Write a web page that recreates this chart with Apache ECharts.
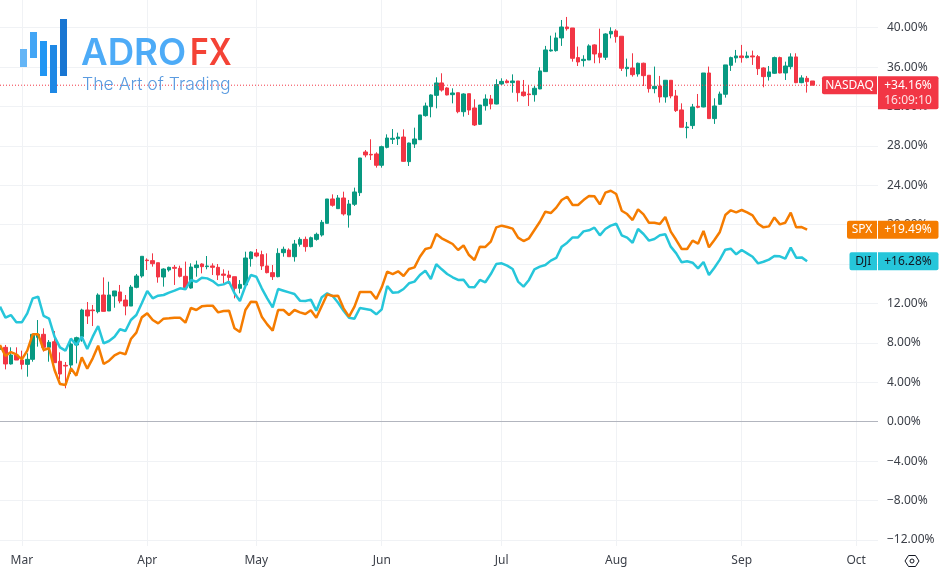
<!DOCTYPE html>
<html>
<head>
<meta charset="utf-8">
<title>NASDAQ SPX DJI</title>
<script src="https://cdn.jsdelivr.net/npm/echarts@6/dist/echarts.min.js"></script>
<style>
html, body { margin: 0; padding: 0; background: #fff; }
#main { width: 941px; height: 572px; }
</style>
</head>
<body>
<div id="main"></div>
<script>
// NASDAQ candles, % change
var nasdaqOpen = [7.35,7.55,5.86,6.77,6.26,5.82,6.33,8.56,8.87,7.55,
  8.12,6.13,5.72,5.75,7.79,8.63,11.34,11.34,11.17,12.86,
  11.24,12.76,13.17,12.35,11.74,13.64,14.79,16.41,16.35,16.14,
  14.69,15.40,15.67,15.57,14.76,13.57,15.64,16.01,15.74,15.81,
  15.67,14.99,14.89,14.72,13.54,13.88,16.55,17.13,16.96,15.81,
  15.13,14.72,17.16,17.43,16.75,18.01,18.51,17.77,18.51,18.95,
  20.14,22.61,21.63,22.71,20.98,22.07,23.25,27.38,27.14,27.18,
  26.03,27.85,28.67,28.73,28.90,26.40,28.19,28.63,31.07,31.98,
  33.13,34.39,33.88,33.20,33.40,31.47,33.30,31.85,30.19,32.08,
  32.76,32.25,34.28,34.59,34.42,34.59,33.47,33.27,33.20,33.78,
  35.54,37.64,37.67,38.96,40.07,39.97,36.96,36.66,36.72,38.25,
  37.40,37.00,39.36,39.67,39.13,35.84,35.91,35.30,36.39,35.17,
  33.81,34.08,32.97,34.66,33.07,31.65,29.85,30.06,32.02,31.95,
  35.40,30.77,32.22,33.24,36.18,36.93,37.13,36.96,37.13,37.06,
  35.91,35.03,35.37,36.96,35.40,36.05,37.03,34.42,34.86,34.59];
var nasdaqClose = [7.62,5.86,6.77,6.26,5.82,6.33,8.87,8.87,7.55,8.06,
  5.99,4.84,5.65,7.89,8.53,11.34,10.73,11.27,12.86,11.20,
  12.86,13.27,12.25,11.74,13.67,14.79,16.79,16.35,16.04,14.69,
  15.50,15.67,15.57,14.76,13.61,15.70,15.91,15.74,15.81,15.67,
  14.89,14.86,14.65,13.54,13.94,16.62,17.23,16.82,15.81,15.13,
  14.72,17.09,17.50,16.75,18.04,18.51,17.77,18.68,19.02,20.24,
  22.61,21.97,22.71,21.09,22.10,23.32,26.77,27.08,27.08,26.03,
  27.92,28.80,28.77,28.90,26.43,28.29,28.70,31.14,32.05,33.17,
  34.39,33.67,33.17,33.37,31.47,33.27,31.64,30.12,32.15,32.76,
  32.25,34.22,34.55,34.42,34.59,33.40,33.10,33.20,33.85,35.61,
  37.74,37.74,38.96,40.07,39.90,36.89,36.52,36.79,38.15,37.33,
  37.00,39.36,39.63,39.09,35.88,35.98,35.23,36.39,35.13,33.81,
  34.05,32.97,34.66,33.07,31.58,29.89,29.92,31.95,31.92,35.40,
  30.77,32.05,33.27,36.22,36.96,37.13,36.96,37.13,37.03,35.84,
  35.03,35.51,36.96,35.40,36.11,37.03,34.42,34.90,34.52,34.16];
var nasdaqLow = [7.21,5.31,5.80,6.26,5.31,4.57,6.09,7.62,7.11,6.09,
  5.99,4.30,3.39,4.84,5.92,8.12,9.92,9.71,11.00,11.20,
  11.24,11.57,12.02,10.80,11.74,13.54,14.62,15.40,15.74,14.11,
  13.71,15.23,13.88,14.65,13.54,13.50,14.72,15.06,15.47,14.89,
  14.38,14.05,13.98,12.52,13.03,13.71,15.74,16.69,15.40,15.06,
  14.39,14.66,16.75,16.75,16.25,17.77,17.26,17.70,18.38,18.79,
  20.14,21.83,21.59,20.92,19.70,21.90,22.91,26.84,26.57,25.79,
  25.79,27.75,28.19,28.09,26.40,25.96,27.79,28.60,30.97,30.90,
  31.81,33.51,33.13,32.32,31.31,30.97,31.14,30.02,30.12,31.58,
  31.71,32.22,34.18,34.35,33.40,32.49,33.00,32.05,32.49,33.75,
  35.51,37.57,37.57,38.15,39.70,36.55,36.11,36.05,36.72,36.39,
  36.39,36.72,38.92,38.48,35.61,35.03,35.03,35.03,34.08,33.41,
  33.34,32.39,32.39,32.83,31.44,29.89,28.77,29.72,31.82,31.92,
  30.77,30.23,32.16,32.90,35.61,36.45,36.45,36.89,36.22,35.20,
  33.95,34.63,35.30,35.37,34.69,35.78,34.36,34.36,33.41,34.16];
var nasdaqHigh = [7.79,7.79,7.55,7.55,7.21,6.94,8.87,10.32,9.48,8.29,
  9.21,7.04,6.06,8.06,8.63,11.47,12.15,11.85,13.03,14.65,
  14.21,13.27,13.88,12.86,13.88,14.99,16.79,16.58,17.09,16.14,
  15.57,15.74,15.91,15.84,16.25,16.08,16.35,16.08,16.82,16.08,
  16.01,15.47,15.33,14.72,14.38,17.26,17.29,17.53,17.36,17.09,
  15.91,17.60,17.77,17.60,18.45,18.72,18.79,18.79,19.19,20.48,
  22.61,23.08,23.01,23.35,22.51,23.76,26.77,27.58,28.67,27.35,
  28.02,29.17,29.71,29.34,29.68,28.33,29.85,31.14,32.39,33.23,
  34.96,35.37,33.95,33.84,33.40,33.34,33.30,32.73,32.15,33.23,
  33.17,34.76,34.86,34.76,35.26,34.59,34.69,34.18,34.08,35.98,
  38.15,39.19,39.50,40.78,41.09,39.97,38.08,37.20,38.31,38.31,
  39.90,39.43,40.04,39.84,39.13,36.86,37.40,36.45,36.45,35.17,
  36.05,35.10,34.69,34.66,33.68,32.32,30.43,32.26,33.27,35.40,
  36.05,32.83,33.51,36.22,37.06,37.74,38.25,37.57,37.67,37.23,
  35.98,36.11,37.06,37.06,36.55,37.40,37.40,35.17,35.10,34.59];

var spxValues = [7.79,6.67,7.07,6.84,6.33,7.21,8.87,8.87,7.28,7.45,
  5.25,3.83,3.72,5.42,4.67,6.53,5.38,6.43,7.72,5.86,
  6.19,6.74,7.01,6.84,8.39,9.04,10.59,11.00,10.32,9.98,
  10.46,10.49,10.56,10.56,10.05,11.54,11.34,11.71,11.78,11.78,
  11.10,11.24,11.27,9.48,9.10,11.34,12.18,12.15,10.66,9.88,
  9.25,11.34,11.34,10.83,11.34,11.10,10.93,11.31,10.56,11.75,
  12.93,12.76,12.79,11.51,10.66,11.68,13.17,13.17,13.17,12.46,
  13.64,15.23,14.99,15.27,14.79,15.50,15.67,16.75,17.53,17.67,
  19.06,18.62,18.34,18.04,17.43,17.90,16.92,16.42,17.77,17.74,
  18.28,19.73,19.90,19.77,19.60,18.68,18.34,18.62,19.46,20.30,
  21.32,21.18,21.73,22.50,22.84,22.00,22.00,22.50,22.91,22.88,
  22.06,23.25,23.45,23.11,21.42,21.08,20.47,21.56,21.05,20.20,
  20.20,20.07,20.78,19.29,18.44,17.53,17.53,18.38,18.07,19.36,
  17.70,18.44,19.26,20.98,21.46,21.25,21.49,21.25,20.95,20.10,
  19.73,19.83,20.74,20.03,20.20,21.22,19.73,19.76,19.49];
var djiValues = [11.68,10.56,10.83,10.09,10.09,11.00,12.52,12.69,10.73,10.46,
  8.63,7.55,7.21,8.43,7.79,8.63,7.38,8.63,9.71,7.95,
  8.19,8.63,9.38,9.21,10.32,10.83,12.02,13.27,12.52,12.79,
  12.86,13.10,13.30,13.54,13.44,14.38,14.21,14.62,14.55,14.28,
  13.84,13.94,14.21,13.03,12.25,13.77,14.89,14.72,13.54,12.52,
  11.61,13.47,13.30,13.13,12.96,12.29,12.25,12.39,11.27,12.63,
  13.03,12.76,12.08,11.27,10.56,10.46,11.54,11.44,11.34,10.90,
  11.41,13.78,13.10,13.13,13.47,14.05,14.22,14.89,15.33,14.49,
  15.98,15.47,14.99,14.66,14.39,14.42,13.67,13.64,14.39,14.15,
  14.99,16.01,16.08,15.84,15.50,14.22,13.71,14.39,15.47,15.74,
  15.91,16.35,16.62,17.77,18.17,18.71,18.71,19.32,19.43,19.70,
  18.92,19.56,19.90,20.10,18.92,18.68,18.17,19.56,19.05,18.38,
  18.55,18.92,19.02,17.77,17.09,16.18,16.28,16.14,15.57,16.21,
  14.89,15.63,16.45,17.46,17.56,16.99,17.43,17.09,16.75,16.07,
  16.24,16.45,16.82,16.79,16.55,17.67,16.65,16.68,16.28];

// bars on the time scale, months sit on these bars
var barCount = 162;
var monthNames = ['Mar','Apr','May','Jun','Jul','Aug','Sep','Oct'];
var monthBars = [4,27,47,70,92,113,136,157];
var yTicks = [-12,-8,-4,0,4,8,12,16,20,24,28,32,36,40];

var upColor = '#089981';
var downColor = '#f23645';
var spxColor = '#f57c00';
var djiColor = '#26c6da';
var gridColor = '#f0f2f5';
var textColor = '#3c4049';
var fontName = '"Noto Sans", sans-serif';

var lastClose = nasdaqClose[nasdaqClose.length - 1];
var categories = [];
var priceLine = [];
for (var i = 0; i < barCount; i++) {
    var m = monthBars.indexOf(i);
    categories.push(m >= 0 ? monthNames[m] : 'b' + i);
    priceLine.push(lastClose);
}
var candles = nasdaqOpen.map(function (o, i) {
    return [o, nasdaqClose[i], nasdaqLow[i], nasdaqHigh[i]];
});
function isMonthBar(i) {
    return monthBars.indexOf(i) >= 0;
}

var chart = echarts.init(document.getElementById('main'), null, {renderer: 'canvas'});

chart.setOption({
    animation: false,
    backgroundColor: '#fff',
    textStyle: {fontFamily: fontName},
    grid: {left: 0, right: 63, top: 0, height: 546},
    xAxis: {
        type: 'category',
        data: categories,
        boundaryGap: false,
        axisLine: {show: false},
        axisTick: {show: false},
        axisLabel: {
            interval: function (i) { return isMonthBar(i); },
            color: textColor,
            fontSize: 12,
            fontFamily: fontName,
            margin: 9
        },
        splitLine: {
            show: true,
            interval: function (i) { return isMonthBar(i); },
            lineStyle: {color: gridColor, width: 1}
        }
    },
    yAxis: {
        type: 'value',
        position: 'right',
        min: -12.62,
        max: 42.81,
        axisLine: {show: false},
        axisTick: {show: false, customValues: yTicks},
        axisLabel: {
            customValues: yTicks,
            color: textColor,
            fontSize: 12,
            fontFamily: fontName,
            margin: 9,
            padding: [2, 0, 0, 0],
            formatter: function (v) {
                return (v < 0 ? '\u2212' : '') + Math.abs(v).toFixed(2) + '%';
            }
        },
        splitLine: {show: true, lineStyle: {color: gridColor, width: 1}}
    },
    series: [
        {
            name: 'Last price',
            type: 'line',
            data: priceLine,
            showSymbol: false,
            symbol: 'none',
            silent: true,
            lineStyle: {color: downColor, type: [1, 2], width: 1},
            itemStyle: {color: downColor}
        },
        {
            name: 'NASDAQ',
            type: 'candlestick',
            data: candles,
            barWidth: 4,
            itemStyle: {
                color: upColor,
                color0: downColor,
                borderColor: upColor,
                borderColor0: downColor,
                borderWidth: 1
            },
            markLine: {
                silent: true,
                symbol: 'none',
                label: {show: false},
                animation: false,
                data: [
                    {yAxis: 0, lineStyle: {color: '#b2b5be', type: 'solid', width: 1}}
                ]
            }
        },
        {
            name: 'DJI',
            type: 'line',
            data: djiValues,
            showSymbol: false,
            symbol: 'none',
            lineStyle: {color: djiColor, width: 2.5},
            itemStyle: {color: djiColor}
        },
        {
            name: 'SPX',
            type: 'line',
            data: spxValues,
            showSymbol: false,
            symbol: 'none',
            lineStyle: {color: spxColor, width: 2.5},
            itemStyle: {color: spxColor}
        }
    ]
});

// two-part tag sitting on the price axis
function priceTag(name, value, color, textCol, nameLeft, extra) {
    var y = chart.convertToPixel({yAxisIndex: 0}, value);
    var pct = '+' + value.toFixed(2) + '%';
    var items = [
        {type: 'rect', z: 50, shape: {x: nameLeft, y: y - 9, width: 877 - nameLeft, height: 18, r: [2, 0, 0, 2]}, style: {fill: color}},
        {type: 'rect', z: 50, shape: {x: 878, y: y - 9, width: 60.5, height: extra ? 33 : 18, r: [0, 2, 2, 0]}, style: {fill: color}},
        {type: 'text', z: 51, style: {x: (nameLeft + 877) / 2, y: y, text: name, fill: textCol, font: '12px ' + fontName, align: 'center', verticalAlign: 'middle'}},
        {type: 'text', z: 51, style: {x: 908, y: y, text: pct, fill: textCol, font: '12px ' + fontName, align: 'center', verticalAlign: 'middle'}}
    ];
    if (extra) {
        items.push({type: 'text', z: 51, style: {x: 908, y: y + 15, text: extra, fill: '#fde0e3', font: '12px ' + fontName, align: 'center', verticalAlign: 'middle'}});
    }
    return items;
}

// logo, top left
var logoBars = [
    [20, 49, 7, 18, '#64b5f6'],
    [30, 32, 7, 26, '#42a5f5'],
    [40, 41, 7, 35, '#2196f3'],
    [50, 45, 7, 48, '#1e88e5'],
    [60, 19, 7, 57, '#1976d2']
];
var logo = logoBars.map(function (b) {
    return {type: 'rect', z: 40, shape: {x: b[0], y: b[1], width: b[2], height: b[3]}, style: {fill: b[4]}};
});
logo.push({type: 'text', z: 40, x: 81, y: 54, scaleX: 0.99, style: {text: 'ADRO', fill: '#4dabf7', font: '600 37px Inter', verticalAlign: 'middle'}});
logo.push({type: 'text', z: 40, x: 190, y: 54, scaleX: 0.86, style: {text: 'FX', fill: '#f44336', font: '600 37px Inter', verticalAlign: 'middle'}});
logo.push({type: 'text', z: 40, style: {x: 82, y: 85, text: 'The Art of Trading', fill: '#5b9be0', font: '300 17.6px Inter', verticalAlign: 'middle'}});

// settings hexagon, bottom right
var settingsIcon = [
    {type: 'polygon', z: 40, shape: {points: [[905, 561], [908.5, 555.5], [915.5, 555.5], [919, 561], [915.5, 566.5], [908.5, 566.5]]}, style: {fill: 'none', stroke: '#131722', lineWidth: 1}},
    {type: 'circle', z: 40, shape: {cx: 912, cy: 561, r: 2}, style: {fill: 'none', stroke: '#131722', lineWidth: 1}}
];

chart.setOption({
    graphic: {
        elements: logo
            .concat(settingsIcon)
            .concat(priceTag('NASDAQ', lastClose, downColor, '#fff', 822, '16:09:10'))
            .concat(priceTag('SPX', spxValues[spxValues.length - 1], spxColor, '#fff', 847))
            .concat(priceTag('DJI', djiValues[djiValues.length - 1], djiColor, '#131722', 849.5))
    }
});

window.addEventListener('resize', function () {
    chart.resize();
});
</script>
</body>
</html>
